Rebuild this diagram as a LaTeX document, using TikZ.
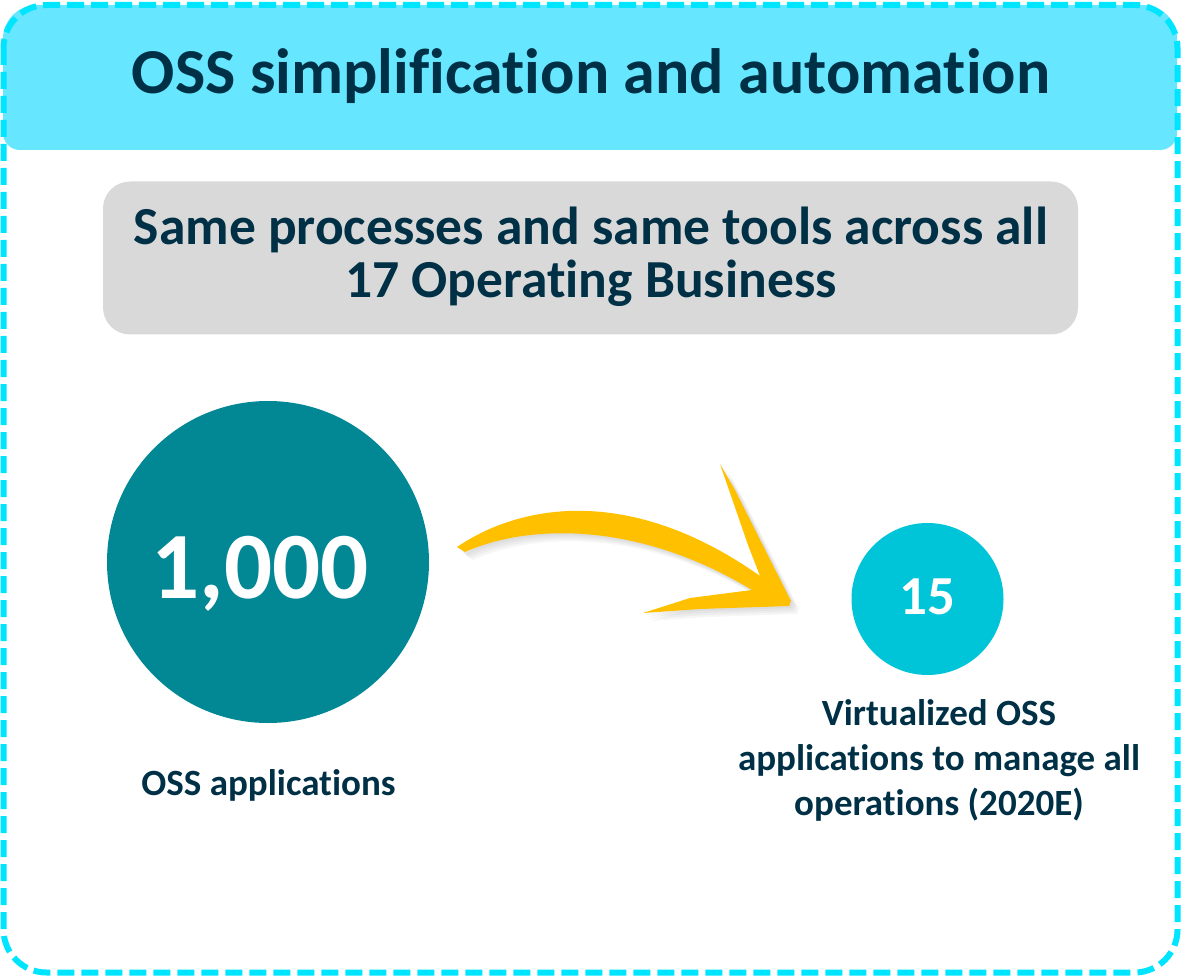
\documentclass[tikz,border=0pt]{standalone}
\usepackage{fontspec}
\setmainfont{Carlito}[Ligatures={NoCommon}]
\definecolor{navy}{RGB}{0,48,69}
\definecolor{hdrfill}{RGB}{102,230,255}
\definecolor{bordercyan}{RGB}{0,229,255}
\definecolor{boxgray}{RGB}{217,217,217}
\definecolor{darkteal}{RGB}{2,135,149}
\definecolor{lightteal}{RGB}{0,197,216}
\definecolor{arrowyellow}{RGB}{255,192,0}
\begin{document}
\begin{tikzpicture}[x=1pt,y=-1pt,
  lbl/.style={text=navy, font=\fontsize{37}{45}\selectfont\bfseries, align=center, inner sep=0pt},
  num/.style={text=white, inner sep=0pt}]
\useasboundingbox (0,0) rectangle (1181,976);
% header band
\fill[hdrfill, rounded corners=34] (3,5) rectangle (1177,150);
\fill[hdrfill, rounded corners=17] (3,70) rectangle (1177,150);
% dashed outer border
\draw[bordercyan, line width=6pt, dash pattern=on 17pt off 7pt, rounded corners=43] (3.5,5) rectangle (1177.5,972.5);
\node[text=navy, font=\fontsize{64}{64}\selectfont\bfseries, anchor=base, inner sep=0pt] (title) at (591,94) {OSS simplification and automation};
% gray box
\node[fill=boxgray, rounded corners=27, minimum width=975pt, minimum height=153pt, inner sep=0pt] (graybox) at (590.5,258) {};
\node[text=navy, font=\fontsize{53.5}{53}\selectfont\bfseries, align=center, inner sep=0pt, anchor=base] (subtitle) at (591,298) {Same processes and same tools across all\\17 Operating Business};
% circles
\node[circle, fill=darkteal, minimum size=322pt, inner sep=0pt] (big) at (268,562) {};
\node[num, font=\fontsize{95}{95}\selectfont\bfseries, anchor=base] (bignum) at (260,598) {1,000};
\node[circle, fill=lightteal, minimum size=152pt, inner sep=0pt] (small) at (927.5,599) {};
\node[num, font=\fontsize{55}{55}\selectfont\bfseries, anchor=base] (smallnum) at (927.5,614) {15};
% labels
\node[lbl, anchor=base] (biglabel) at (268.5,795) {OSS applications};
\node[lbl, anchor=base] (smalllabel) at (939,815) {Virtualized OSS\\applications to manage all\\operations (2020E)};
% brush arrow (soft shadow then fill)
\def\arrowpath{(457,547) .. controls (520,504) and (630,484) .. (760,576)
  -- (748,545) -- (720,464) -- (735,490) -- (791,601) -- (789,606)
  -- (700,609) -- (643,613) -- (690,598) -- (752,590)
  .. controls (640,522) and (530,523) .. (465,552) -- cycle}
\foreach \s in {2,4,6,8}
  \fill[black, opacity=0.035, xshift=\s pt, yshift=-\s pt] \arrowpath;
\fill[arrowyellow] \arrowpath;
\end{tikzpicture}
\end{document}
